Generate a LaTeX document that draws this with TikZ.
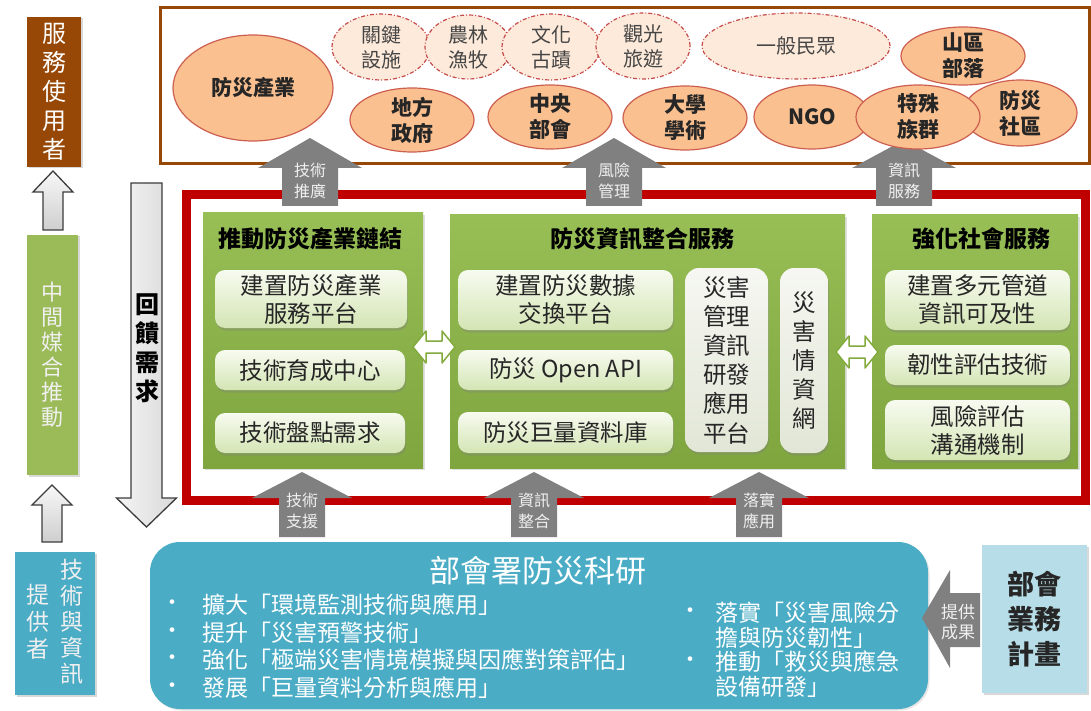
\documentclass[tikz,border=0pt]{standalone}
\usepackage{fontspec}
\setmainfont{Noto Sans CJK TC}
\usetikzlibrary{shapes.geometric,shadows}
\definecolor{brownbox}{RGB}{151,72,6}
\definecolor{greenbox}{RGB}{155,187,89}
\definecolor{bluebox}{RGB}{75,172,198}
\definecolor{lightblue}{RGB}{183,222,232}
\definecolor{ellfill}{RGB}{250,192,144}
\definecolor{ellline}{RGB}{205,95,80}
\definecolor{dashfill}{RGB}{253,234,218}
\definecolor{dashline}{RGB}{200,75,75}
\definecolor{framered}{RGB}{192,0,0}
\definecolor{paneltop}{RGB}{152,191,86}
\definecolor{panelbot}{RGB}{126,165,62}
\definecolor{innertop}{RGB}{247,251,240}
\definecolor{innerbot}{RGB}{212,229,180}
\definecolor{graytop}{RGB}{246,247,242}
\definecolor{graybot}{RGB}{226,230,214}
\definecolor{arrowgray}{RGB}{128,128,128}
\definecolor{arrowtxt}{RGB}{240,240,240}
\definecolor{txtdark}{RGB}{38,38,38}
\definecolor{txtgray}{RGB}{70,70,70}
\definecolor{outlinedark}{RGB}{60,60,60}
\definecolor{dblgreen}{RGB}{130,170,60}
\newcommand{\fsz}[2]{\fontsize{#1}{#2}\selectfont}
% cx, tip, headbase, bottom, headhalf, shafthalf, style
\newcommand{\upblk}[7]{\path[#7] (#1,#2) -- (#1+#5,#3) -- (#1+#6,#3) -- (#1+#6,#4) -- (#1-#6,#4) -- (#1-#6,#3) -- (#1-#5,#3) -- cycle;}
\newcommand{\lrblk}[2]{\path[dblarrow] (#1-21,#2) -- (#1-8,#2-16) -- (#1-8,#2-6) -- (#1+8,#2-6) -- (#1+8,#2-16) -- (#1+21,#2) -- (#1+8,#2+16) -- (#1+8,#2+6) -- (#1-8,#2+6) -- (#1-8,#2+16) -- cycle;}
\tikzset{
  solidell/.style={ellipse, draw=ellline, fill=ellfill, line width=1.2pt, inner sep=0pt},
  dashell/.style={ellipse, draw=dashline, fill=dashfill, line width=1.2pt, inner sep=0pt,
    dash pattern=on 4pt off 2pt on 1pt off 2pt},
  solidtxt/.style={align=center, font=\fsz{21}{26}\bfseries, text=txtdark},
  dashtxt/.style={align=center, font=\fsz{20}{25}, text=txtgray},
  panel/.style={rectangle, top color=paneltop, bottom color=panelbot, inner sep=0pt,
    drop shadow={shadow xshift=2pt, shadow yshift=-2pt, opacity=0.25}},
  paneltitle/.style={font=\fsz{23}{28}\bfseries, text=black},
  innerbox/.style={rectangle, rounded corners=10pt, top color=innertop, bottom color=innerbot,
    inner sep=0pt, align=center, font=\fsz{23.5}{28}, text=txtdark,
    drop shadow={shadow xshift=1pt, shadow yshift=-2.5pt, opacity=0.35}},
  vertbox/.style={rectangle, rounded corners=14pt, top color=graytop, bottom color=graybot,
    inner sep=0pt, align=center, font=\fsz{23.5}{29.2}, text=txtdark,
    drop shadow={shadow xshift=1pt, shadow yshift=-2.5pt, opacity=0.35}},
  grayarrow/.style={fill=arrowgray},
  arrowlabel/.style={align=center, font=\fsz{16}{21}, text=arrowtxt},
  hollowarrow/.style={draw=outlinedark, line width=1.3pt, top color=gray!6, bottom color=gray!38},
  bigdown/.style={draw=outlinedark, line width=1.3pt, left color=gray!8, right color=gray!30},
  dblarrow/.style={fill=white, draw=dblgreen, line width=1.5pt, line join=round},
  sidebox/.style={rectangle, inner sep=0pt, align=center,
    drop shadow={shadow xshift=1.5pt, shadow yshift=-1.5pt, opacity=0.3}},
  bullet/.style={font=\fsz{22}{22}, text=white},
  btext/.style={anchor=west, inner sep=0pt, font=\fsz{23}{27}, text=white},
}
\begin{document}
\begin{tikzpicture}[x=1pt,y=-1pt]
\useasboundingbox (0,0) rectangle (1091,711);
\fill[white] (0,0) rectangle (1091,711);

% ---------- left column ----------
\node[sidebox, fill=brownbox, minimum width=54pt, minimum height=150pt, text=white,
  font=\fsz{24}{29}] (users) at (54,92) {服\\務\\使\\用\\者};
\upblk{53}{171}{192}{230}{20}{10}{hollowarrow}
\node[sidebox, fill=greenbox, minimum width=51pt, minimum height=240pt, text=arrowtxt,
  font=\fsz{22}{25}] (broker) at (52.5,355) {中\\間\\媒\\合\\推\\動};
\upblk{52}{485}{505}{542}{20}{10}{hollowarrow}
\node[sidebox, fill=bluebox, minimum width=80pt, minimum height=143pt] (provider) at (55,623.5) {};
\node[align=center, font=\fsz{23}{26}, text=arrowtxt] (prov1) at (72,622) {技\\術\\與\\資\\訊};
\node[align=center, font=\fsz{23}{27}, text=arrowtxt] (prov2) at (38,622) {提\\供\\者};

% ---------- feedback arrow ----------
\upblk{146.5}{527}{498}{183}{30}{15.5}{bigdown}
\node[align=center, font=\fsz{24}{29}\bfseries, text=black] (feedback) at (147,348) {回\\饋\\需\\求};

% ---------- top frame ----------
\node[rectangle, draw=brownbox, line width=3pt, minimum width=929pt, minimum height=156pt, inner sep=0pt]
  (topframe) at (624.5,86) {};

% ---------- red frame ----------
\node[rectangle, draw=framered, line width=9pt, minimum width=899pt, minimum height=305pt, inner sep=0pt]
  (redframe) at (635.5,347.5) {};

% ---------- green panels ----------
\node[panel, minimum width=220pt, minimum height=255pt] (pL) at (313,340.5) {};
\node[panel, minimum width=395pt, minimum height=253pt] (pM) at (647.5,341.5) {};
\node[panel, minimum width=206pt, minimum height=253pt] (pR) at (975,341.5) {};
\node[paneltitle] (tL) at (310,239) {推動防災產業鏈結};
\node[paneltitle] (tM) at (642,239) {防災資訊整合服務};
\node[paneltitle] (tR) at (981,239) {強化社會服務};

\node[innerbox, minimum width=192pt, minimum height=58pt] (L1) at (311,299) {建置防災產業\\服務平台};
\node[innerbox, minimum width=190pt, minimum height=40pt] (L2) at (310,370) {技術育成中心};
\node[innerbox, minimum width=190pt, minimum height=40pt] (L3) at (310,433) {技術盤點需求};
\node[innerbox, minimum width=215pt, minimum height=60pt] (M1) at (565.5,300) {建置防災數據\\交換平台};
\node[innerbox, minimum width=215pt, minimum height=40pt] (M2) at (565.5,370) {防災 Open API};
\node[innerbox, minimum width=215pt, minimum height=41pt] (M3) at (565.5,432.5) {防災巨量資料庫};
\node[vertbox, minimum width=83pt, minimum height=184pt] (M4) at (726.5,360) {災害\\管理\\資訊\\研發\\應用\\平台};
\node[vertbox, minimum width=48pt, minimum height=185pt, font=\fsz{23.5}{29}] (M5) at (804,360.5) {災\\害\\情\\資\\網};
\node[innerbox, minimum width=185pt, minimum height=60pt] (R1) at (977.5,300) {建置多元管道\\資訊可及性};
\node[innerbox, minimum width=185pt, minimum height=40pt] (R2) at (977.5,365) {韌性評估技術};
\node[innerbox, minimum width=185pt, minimum height=60pt] (R3) at (977.5,430) {風險評估\\溝通機制};

\lrblk{434}{347}
\lrblk{857}{352}

% ---------- gray arrows (top) ----------
\upblk{310}{138}{168}{206}{52}{28}{grayarrow}
\node[arrowlabel] (a1) at (310,181) {技術\\推廣};
\upblk{614}{138}{168}{206}{52}{28}{grayarrow}
\node[arrowlabel] (a2) at (614,181) {風險\\管理};
\upblk{904}{140}{168}{206}{52}{28}{grayarrow}
\node[arrowlabel] (a3) at (904,181) {資訊\\服務};

% ---------- ellipses ----------
\node[solidell, minimum width=160pt, minimum height=106pt] (e1) at (253,88) {};
\node[solidtxt] at (e1) {防災產業};
\node[dashell, minimum width=98pt, minimum height=66pt] (e2) at (381,47) {};
\node[dashtxt] at (e2) {關鍵\\設施};
\node[dashell, minimum width=86pt, minimum height=64pt] (e3) at (468,47) {};
\node[dashtxt] at (e3) {農林\\漁牧};
\node[dashell, minimum width=98pt, minimum height=66pt] (e4) at (551,47) {};
\node[dashtxt] at (e4) {文化\\古蹟};
\node[dashell, minimum width=94pt, minimum height=66pt] (e5) at (643,46) {};
\node[dashtxt] at (e5) {觀光\\旅遊};
\node[dashell, minimum width=188pt, minimum height=66pt] (e6) at (796,46) {};
\node[dashtxt] at (e6) {一般民眾};
\node[solidell, minimum width=124pt, minimum height=64pt] (e7) at (412,120) {};
\node[solidtxt] at (e7) {地方\\政府};
\node[solidell, minimum width=124pt, minimum height=64pt] (e8) at (550,117) {};
\node[solidtxt] at (e8) {中央\\部會};
\node[solidell, minimum width=124pt, minimum height=64pt] (e9) at (685,118) {};
\node[solidtxt] at (e9) {大學\\學術};
\node[solidell, minimum width=116pt, minimum height=64pt] (e10) at (812,117) {};
\node[solidtxt] at (e10) {NGO};
\node[solidell, minimum width=124pt, minimum height=58pt] (e11) at (963,56) {};
\node[solidtxt] at (e11) {山區\\部落};
\node[solidell, minimum width=114pt, minimum height=66pt] (e12) at (1020,113) {};
\node[solidtxt] at (e12) {防災\\社區};
\node[solidell, minimum width=124pt, minimum height=64pt] (e13) at (918,117) {};
\node[solidtxt] at (e13) {特殊\\族群};

% ---------- bottom ----------
\node[rectangle, rounded corners=30pt, fill=bluebox, minimum width=778pt, minimum height=167pt, inner sep=0pt,
  drop shadow={shadow xshift=1.5pt, shadow yshift=-1.5pt, opacity=0.2}] (research) at (539,625.5) {};
\node[font=\fsz{31}{36}, text=white] (rtitle) at (538,571) {部會署防災科研};

\node[bullet] (b1) at (172,605) {•};
\node[btext] (l1) at (202,605) {擴大「環境監測技術與應用」};
\node[bullet] (b2) at (172,633) {•};
\node[btext] (l2) at (202,633) {提升「災害預警技術」};
\node[bullet] (b3) at (172,660) {•};
\node[btext] (l3) at (202,660) {強化「極端災害情境模擬與因應對策評估」};
\node[bullet] (b4) at (172,688) {•};
\node[btext] (l4) at (202,688) {發展「巨量資料分析與應用」};

\node[bullet] (b5) at (690,613) {•};
\node[btext] (r1) at (715,613) {落實「災害風險分};
\node[btext] (r2) at (715,638) {擔與防災韌性」};
\node[bullet] (b6) at (690,662) {•};
\node[btext] (r3) at (715,662) {推動「救災與應急};
\node[btext] (r4) at (715,687) {設備研發」};

\upblk{302}{472}{498}{537}{50}{23}{grayarrow}
\node[arrowlabel] (a4) at (302,511) {技術\\支援};
\upblk{534}{472}{498}{537}{50}{23}{grayarrow}
\node[arrowlabel] (a5) at (534,511) {資訊\\整合};
\upblk{759}{472}{498}{537}{50}{23}{grayarrow}
\node[arrowlabel] (a6) at (759,511) {落實\\應用};

% ---------- right box ----------
\node[sidebox, fill=lightblue, minimum width=105pt, minimum height=148pt, font=\fsz{27}{35}\bfseries, text=txtdark]
  (plan) at (1034.5,619) {部會\\業務\\計畫};
\path[grayarrow] (922,618) -- (950,570) -- (950,593) -- (980,593) -- (980,647) -- (950,647) -- (950,668) -- cycle;
\node[arrowlabel, font=\fsz{17}{20}] (a7) at (958,622) {提供\\成果};
\end{tikzpicture}
\end{document}
